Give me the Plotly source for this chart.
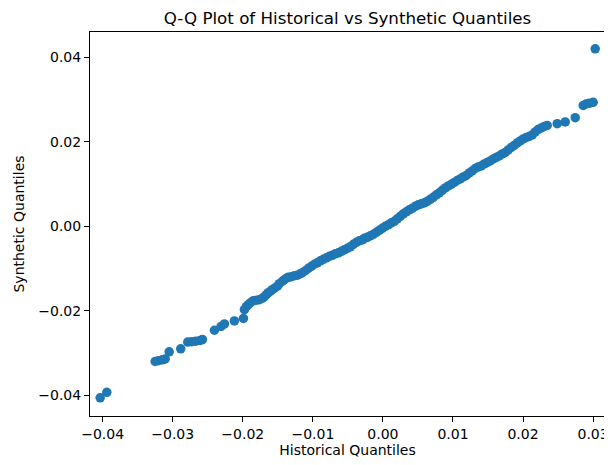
import plotly.graph_objects as go

# Historical (x) and synthetic (y) quantiles
historical_q = [
    -0.04036, -0.03941, -0.03251, -0.03204, -0.03147, -0.03108, -0.03051, -0.02886,
    -0.02786, -0.02729, -0.02672, -0.02609, -0.02576, -0.02405, -0.02310, -0.02262,
    -0.02120, -0.01991,
    -0.01977, -0.01949, -0.01920, -0.01892, -0.01849, -0.01806, -0.01763, -0.01720,
    -0.01692, -0.01663, -0.01635, -0.01606, -0.01578, -0.01549, -0.01506, -0.01478,
    -0.01435, -0.01407, -0.01378, -0.01350, -0.01307, -0.01264, -0.01221, -0.01178,
    -0.01150, -0.01107, -0.01064, -0.01021, -0.00979, -0.00936, -0.00893, -0.00850,
    -0.00807, -0.00765, -0.00722, -0.00679, -0.00636, -0.00593, -0.00551, -0.00508,
    -0.00465, -0.00422, -0.00379, -0.00337, -0.00294, -0.00265, -0.00223, -0.00180,
    -0.00137, -0.00094, -0.00051, -0.00009, 0.00034, 0.00077, 0.00120, 0.00163,
    0.00205, 0.00248, 0.00291, 0.00334, 0.00377, 0.00419, 0.00462, 0.00505,
    0.00548, 0.00591, 0.00633, 0.00676, 0.00719, 0.00762, 0.00805, 0.00847,
    0.00890, 0.00933, 0.00976, 0.01019, 0.01061, 0.01104, 0.01147, 0.01190,
    0.01233, 0.01275, 0.01318, 0.01361, 0.01404, 0.01447, 0.01489, 0.01532,
    0.01575, 0.01618, 0.01660, 0.01703, 0.01746, 0.01789, 0.01832, 0.01874,
    0.01917, 0.01960, 0.02003, 0.02046, 0.02088, 0.02131, 0.02174, 0.02217,
    0.02260, 0.02302, 0.02345, 0.02488, 0.02602, 0.02745, 0.02859, 0.02902,
    0.02944, 0.03001, 0.03030,
]
synthetic_q = [
    -0.0406, -0.0393, -0.0320, -0.0318, -0.0316, -0.0314, -0.0297, -0.0290,
    -0.0274, -0.0273, -0.0272, -0.0270, -0.0268, -0.0246, -0.0237, -0.0231,
    -0.0224, -0.0218,
    -0.01974, -0.01903, -0.01856, -0.01809, -0.01761, -0.01749, -0.01738, -0.01702,
    -0.01667, -0.01619, -0.01572, -0.01537, -0.01501, -0.01466, -0.01418, -0.01359,
    -0.01300, -0.01265, -0.01229, -0.01206, -0.01194, -0.01170, -0.01158, -0.01123,
    -0.01099, -0.01052, -0.00993, -0.00946, -0.00898, -0.00863, -0.00816, -0.00780,
    -0.00745, -0.00709, -0.00686, -0.00650, -0.00626, -0.00591, -0.00556, -0.00520,
    -0.00485, -0.00426, -0.00378, -0.00343, -0.00319, -0.00284, -0.00260, -0.00225,
    -0.00189, -0.00142, -0.00095, -0.00047, 0.00000, 0.00035, 0.00083, 0.00118,
    0.00177, 0.00236, 0.00296, 0.00343, 0.00390, 0.00426, 0.00473, 0.00508,
    0.00532, 0.00556, 0.00591, 0.00638, 0.00686, 0.00745, 0.00792, 0.00851,
    0.00910, 0.00957, 0.00993, 0.01040, 0.01087, 0.01123, 0.01170, 0.01206,
    0.01265, 0.01312, 0.01371, 0.01407, 0.01430, 0.01478, 0.01513, 0.01548,
    0.01596, 0.01631, 0.01667, 0.01714, 0.01749, 0.01809, 0.01868, 0.01915,
    0.01974, 0.02021, 0.02069, 0.02104, 0.02128, 0.02163, 0.02234, 0.02293,
    0.02329, 0.02364, 0.02388, 0.02430, 0.02470, 0.02572, 0.02861, 0.02896,
    0.02913, 0.02936, 0.04203,
]

x_tickvals = [-0.04, -0.03, -0.02, -0.01, 0.00, 0.01, 0.02, 0.03]
x_ticktext = ["\u22120.04", "\u22120.03", "\u22120.02", "\u22120.01", "0.00", "0.01", "0.02", "0.03"]
y_tickvals = [-0.04, -0.02, 0.00, 0.02, 0.04]
y_ticktext = ["\u22120.04", "\u22120.02", "0.00", "0.02", "0.04"]

FONT = "DejaVu Sans"
# the page body adds an 8 px margin on the left/top; the figure fills the rest
W, H = 604, 457

fig = go.Figure()
fig.add_trace(go.Scatter(
    x=historical_q, y=synthetic_q, mode="markers",
    marker=dict(color="#1f77b4", size=9.5, line=dict(width=0)),
    showlegend=False,
))

axis_common = dict(
    showline=True, linecolor="#000000", linewidth=1, mirror=True,
    ticks="outside", ticklen=5, tickwidth=1, tickcolor="#000000",
    showgrid=False, zeroline=False, automargin=False,
    tickfont=dict(family=FONT, size=14, color="#000000"),
)

fig.update_layout(
    width=W, height=H,
    margin=dict(l=82, r=7, t=24, b=49),
    paper_bgcolor="white", plot_bgcolor="white",
    title=dict(
        text="Q-Q Plot of Historical vs Synthetic Quantiles",
        x=0.5, xref="paper", xanchor="center",
        y=1 - 10 / H, yref="container", yanchor="middle",
        font=dict(family=FONT, size=16.7, color="#000000"),
    ),
    xaxis=dict(
        range=[-0.04181, 0.0317],
        tickvals=x_tickvals, ticktext=x_ticktext,
        title=dict(text="Historical Quantiles", font=dict(family=FONT, size=14, color="#000000"), standoff=4),
        **axis_common,
    ),
    yaxis=dict(
        range=[-0.0449, 0.0460],
        tickvals=y_tickvals, ticktext=y_ticktext,
        title=dict(text="Synthetic Quantiles", font=dict(family=FONT, size=14, color="#000000"), standoff=10),
        **axis_common,
    ),
)

fig.write_html("out.html")
